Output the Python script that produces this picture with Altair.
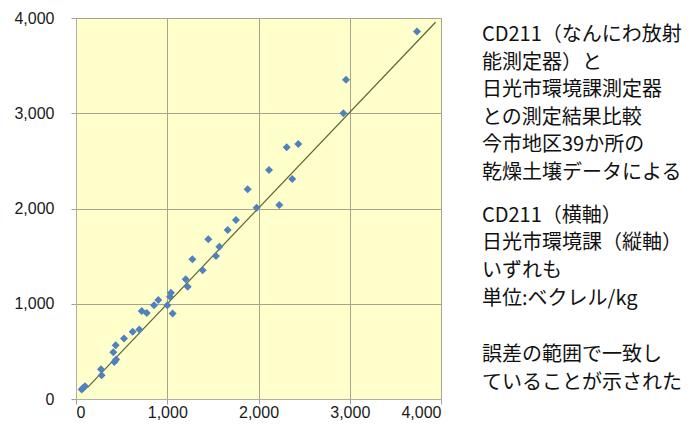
import altair as alt
import pandas as pd

cd211 = [62, 80, 99, 281, 274, 420, 440, 409, 435, 526, 621, 694, 720, 775, 855, 902,
         1001, 1030, 1041, 1059, 1202, 1224, 1388, 1275, 1450, 1534, 1571, 1662, 1753,
         1881, 1980, 2228, 2115, 2309, 2370, 2436, 2930, 2959, 3737]
nikko = [99, 118, 134, 249, 312, 389, 414, 491, 565, 635, 705, 730, 925, 904, 985, 1040,
         985, 1073, 1115, 898, 1256, 1178, 1353, 1466, 1676, 1501, 1598, 1774, 1879,
         2202, 2009, 2037, 2405, 2644, 2310, 2678, 3001, 3351, 3858]
line_x = [125, 3940]
line_y = [120, 3955]
ticks = [0, 1000, 2000, 3000, 4000]

note_lines = ["CD211（なんにわ放射", "能測定器）と", "日光市環境課測定器", "との測定結果比較",
              "今市地区39か所の", "乾燥土壌データによる", "CD211（横軸）",
              "日光市環境課（縦軸）", "いずれも", "単位:ベクレル/kg",
              "誤差の範囲で一致し", "ていることが示された"]
# row position of each note line (blank gaps between paragraphs)
note_rows = [0, 1, 2, 3, 4, 5, 6.55, 7.55, 8.55, 9.55, 11.6, 12.6]

pts = pd.DataFrame({"x": cd211, "y": nikko})
ln = pd.DataFrame({"x": line_x, "y": line_y})

W, H = 365, 381
xs = alt.Scale(domain=[0, 4000], nice=False)
ys = alt.Scale(domain=[0, 4000], nice=False)
xaxis = alt.Axis(values=ticks, format=",d", title=None, labelPadding=0,
                 labelFont="Liberation Sans", labelFontSize=16)
yaxis = alt.Axis(values=ticks, format=",d", title=None, labelPadding=17,
                 labelFont="Liberation Sans", labelFontSize=16)

points = alt.Chart(pts).mark_point(shape="diamond", filled=True, size=64, color="#4F81BD", opacity=1).encode(
    x=alt.X("x:Q", scale=xs, axis=xaxis),
    y=alt.Y("y:Q", scale=ys, axis=yaxis),
)
line = alt.Chart(ln).mark_line(color="#5E6434", strokeWidth=1.2).encode(
    x=alt.X("x:Q", scale=xs, axis=xaxis),
    y=alt.Y("y:Q", scale=ys, axis=yaxis),
)

notes = pd.DataFrame({"t": note_lines, "r": note_rows})
text = alt.Chart(notes).mark_text(align="left", baseline="middle", font="Noto Sans CJK JP",
                                  fontSize=20, color="#111111").encode(
    x=alt.value(406),
    y=alt.Y("r:Q", scale=alt.Scale(domain=[0, 12.6], range=[17, 17 + 12.6 * 27.6]), axis=None),
    text="t:N",
)

chart = alt.layer(alt.layer(line, points), text).resolve_scale(y="independent").properties(
    width=W, height=H,
    padding={"left": 68, "top": 10, "right": 247, "bottom": 21},
    autosize=alt.AutoSizeParams(type="none"),
    background="white",
).configure_view(fill="#FFFFCC", stroke=None).configure_axis(
    labelColor="#1a1a1a",
    grid=True, gridColor="#A8A48C", gridWidth=1, gridOpacity=1,
    domainColor="#B0B0A0", tickColor="#A0A0A0", tickSize=5,
)

chart.save("out.html", embed_options={"renderer": "svg", "actions": False})
